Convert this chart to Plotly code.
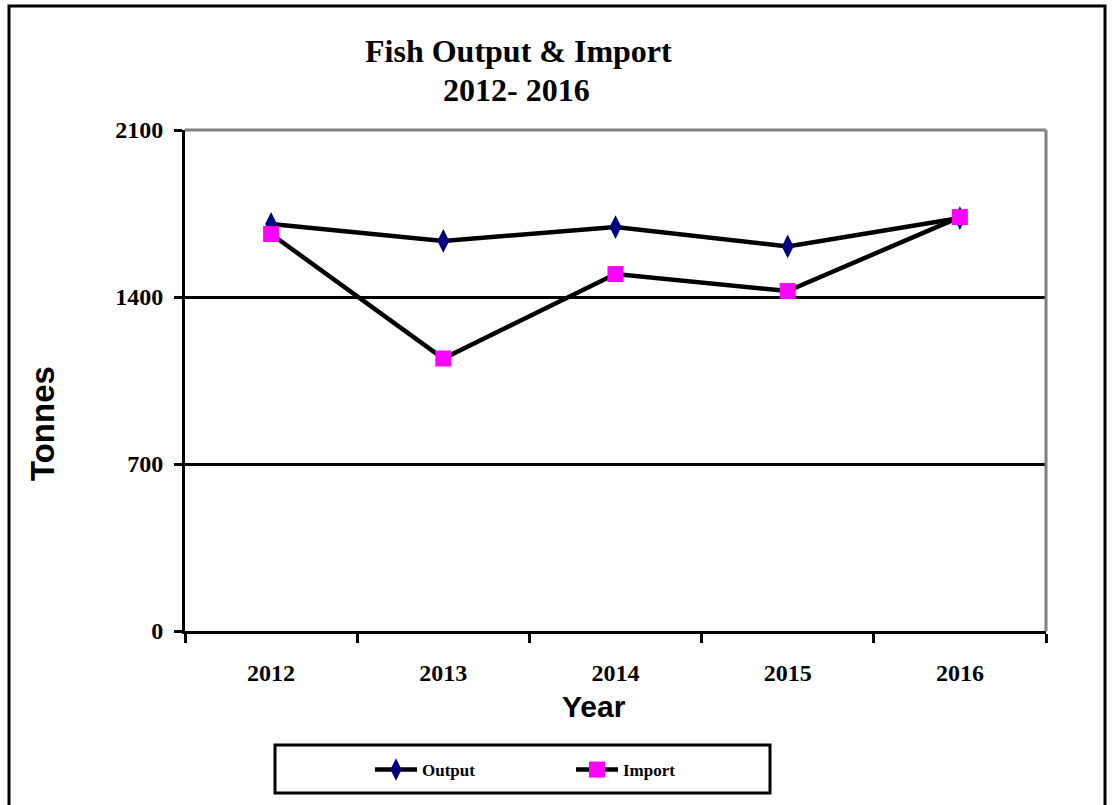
import plotly.graph_objects as go

years = ["2012", "2013", "2014", "2015", "2016"]
output = [1706, 1635, 1693, 1612, 1731]
imports = [1664, 1142, 1496, 1425, 1735]
y_ticks = [0, 700, 1400, 2100]

W, H = 1112, 805
L, R, T, B = 185, 66, 130, 174
pw, ph = W - L - R, H - T - B


def px_x(x):
    return (x - L) / pw


def px_y(y):
    return (H - B - y) / ph


serif = "Liberation Serif"
sans = "Liberation Sans"

fig = go.Figure()
fig.add_trace(go.Scatter(
    x=years, y=output, name="Output", mode="lines+markers",
    line=dict(color="black", width=4.5),
    marker=dict(symbol="diamond-tall", size=17, color="#000080"),
))
fig.add_trace(go.Scatter(
    x=years, y=imports, name="Import", mode="lines+markers",
    line=dict(color="black", width=4.5),
    marker=dict(symbol="square", size=16, color="#FF00FF"),
))

fig.update_layout(
    width=W, height=H, autosize=False,
    margin=dict(l=L, r=R, t=T, b=B),
    paper_bgcolor="white", plot_bgcolor="white",
    showlegend=True,
    legend=dict(
        orientation="h", x=px_x(370), y=px_y(770), xanchor="left", yanchor="middle",
        bgcolor="rgba(0,0,0,0)", borderwidth=0, itemwidth=42,
        font=dict(family=serif, size=17, color="black", weight="bold"),
        entrywidth=144,
    ),
    xaxis=dict(
        type="category", range=[-0.5, 4.5], tickson="boundaries",
        ticks="outside", ticklen=9, tickwidth=3, tickcolor="black",
        showline=True, linecolor="black", linewidth=3, showgrid=False,
        tickfont=dict(family=serif, size=24, color="black", weight="bold"),
        ticklabelstandoff=18,
    ),
    yaxis=dict(
        range=[0, 2100], tickvals=y_ticks, ticks="outside", ticklen=8,
        tickwidth=3, tickcolor="black", showline=True, linecolor="black",
        linewidth=3, showgrid=True, gridcolor="black", gridwidth=3,
        zeroline=False,
        tickfont=dict(family=serif, size=24, color="black", weight="bold"),
        ticklabelstandoff=6,
    ),
)

# grey top / right plot borders
fig.add_shape(type="line", xref="paper", yref="paper", x0=0, x1=1, y0=1, y1=1,
              line=dict(color="#808080", width=3), layer="above")
fig.add_shape(type="line", xref="paper", yref="paper", x0=1, x1=1, y0=0, y1=1,
              line=dict(color="#808080", width=3), layer="above")
# outer chart border
fig.add_shape(type="rect", xref="paper", yref="paper",
              x0=px_x(9), x1=px_x(1105), y0=px_y(812), y1=px_y(6),
              line=dict(color="black", width=3))
# legend box
fig.add_shape(type="rect", xref="paper", yref="paper",
              x0=px_x(275), x1=px_x(770), y0=px_y(793), y1=px_y(745),
              line=dict(color="black", width=3))

ann_font = dict(color="black", weight="bold")
fig.add_annotation(text="Fish Output & Import", xref="paper", yref="paper",
                   x=px_x(518), y=px_y(51), showarrow=False,
                   xanchor="center", yanchor="middle",
                   font=dict(family=serif, size=32, **ann_font))
fig.add_annotation(text="2012- 2016", xref="paper", yref="paper",
                   x=px_x(516), y=px_y(90), showarrow=False,
                   xanchor="center", yanchor="middle",
                   font=dict(family=serif, size=32, **ann_font))
fig.add_annotation(text="Tonnes", xref="paper", yref="paper",
                   x=px_x(42), y=px_y(424), showarrow=False, textangle=-90,
                   xanchor="center", yanchor="middle",
                   font=dict(family=sans, size=33, **ann_font))
fig.add_annotation(text="Year", xref="paper", yref="paper",
                   x=px_x(594), y=px_y(706), showarrow=False,
                   xanchor="center", yanchor="middle",
                   font=dict(family=sans, size=30, **ann_font))

fig.write_html("out.html", config={"displayModeBar": False},
               post_script="document.body.style.margin='0';")
